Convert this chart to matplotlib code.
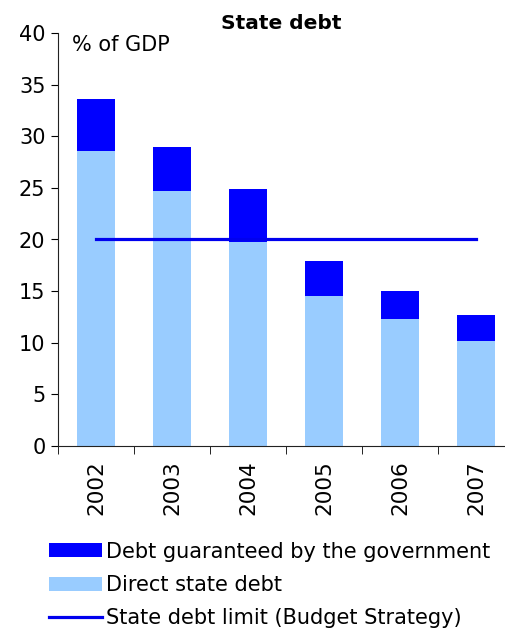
import numpy as np
import matplotlib
matplotlib.use('Agg')
import matplotlib.pyplot as plt

years = ['2002', '2003', '2004', '2005', '2006', '2007']
direct_debt = [28.6, 24.7, 19.8, 14.5, 12.3, 10.2]
total_debt = [33.6, 29.0, 24.9, 17.9, 15.0, 12.7]
debt_limit = [20, 20, 20, 20, 20, 20]

guaranteed = [t - d for t, d in zip(total_debt, direct_debt)]

plt.rcParams['font.family'] = 'DejaVu Sans'

fig = plt.figure(figsize=(5.06, 6.30), dpi=100)
ax = fig.add_axes([58 / 506, 1 - 446 / 630, 456 / 506, 413 / 630])

x = np.arange(len(years))
b1 = ax.bar(x, direct_debt, width=0.51, color='#99ccff', label='Direct state debt')
b2 = ax.bar(x, guaranteed, width=0.51, bottom=direct_debt, color='#0000ff',
            label='Debt guaranteed by the government')
ln, = ax.plot(x, debt_limit, color='#0000ee', lw=2.3,
              label='State debt limit (Budget Strategy)')

ax.set_xlim(-0.5, 5.5)
ax.set_ylim(0, 40)
ax.set_yticks(range(0, 41, 5))
ax.tick_params(axis='y', labelsize=15, length=5, direction='out', pad=4)
ax.set_xticks(x)
ax.set_xticklabels(years, rotation=90, fontsize=15.5)
ax.set_xticks(np.arange(-0.5, 5.6, 1), minor=True)
ax.tick_params(axis='x', which='major', length=0, pad=10)
ax.tick_params(axis='x', which='minor', length=6, direction='out')
for s in ['top', 'right']:
    ax.spines[s].set_visible(False)
for s in ['left', 'bottom']:
    ax.spines[s].set_color('#222222')

ax.set_title('State debt', fontsize=14.5, fontweight='bold', pad=2, x=0.49)
ax.text(0.03, 0.995, '% of GDP', transform=ax.transAxes, fontsize=15,
        va='top', ha='left')

fig.legend([b2, b1, ln],
           ['Debt guaranteed by the government', 'Direct state debt',
            'State debt limit (Budget Strategy)'],
           loc='upper left', bbox_to_anchor=(30 / 506, 1 - 523 / 630),
           frameon=False, fontsize=15, handlelength=2.55, handletextpad=0.2,
           labelspacing=0.64, handleheight=0.65)

fig.savefig('out.png', dpi=100)
